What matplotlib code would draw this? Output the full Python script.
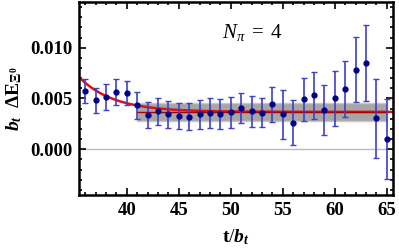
import matplotlib as mpl
mpl.use('Agg')
import matplotlib.pyplot as plt
from matplotlib.ticker import MultipleLocator
import numpy as np

plt.rc('font', family='Liberation Serif', weight='bold', size=13.5)
plt.rc('mathtext', fontset='custom',
       rm='Liberation Serif:style=normal:weight=normal',
       it='Liberation Serif:style=italic:weight=normal',
       bf='Liberation Serif:style=normal:weight=bold',
       bfit='Liberation Serif:style=italic:weight=bold')

# data
t = np.arange(36, 66)
dE = [0.00574, 0.00483, 0.00516, 0.00568, 0.00555, 0.00431, 0.00336, 0.00372,
      0.00343, 0.00328, 0.00320, 0.00343, 0.00359, 0.00349, 0.00362, 0.00405,
      0.00372, 0.00359, 0.00441, 0.00343, 0.00261, 0.00490, 0.00532, 0.00385,
      0.00500, 0.00591, 0.00784, 0.00849, 0.00304, 0.00101]
err = [0.00116, 0.00125, 0.00126, 0.00128, 0.00115, 0.00130, 0.00127, 0.00130,
       0.00137, 0.00130, 0.00132, 0.00140, 0.00150, 0.00150, 0.00150, 0.00150,
       0.00150, 0.00143, 0.00172, 0.00238, 0.00220, 0.00214, 0.00232, 0.00246,
       0.00272, 0.00276, 0.00320, 0.00371, 0.00392, 0.00390]

# fit: plateau + one exponential
plateau = 0.00368
plateau_err = 0.00092
amp = 0.00343
t0 = 35.4
tau = 3.3
band_t = [41, 65]

fig = plt.figure(figsize=(3.99, 2.49), dpi=100)
ax = fig.add_axes([0.198, 0.217, 0.787, 0.775])

ax.axhline(0, color='#bbbbbb', lw=1, zorder=0)
ax.fill_between(band_t, plateau - plateau_err, plateau + plateau_err,
                color='#a6a6a6', edgecolor='#c8c8c8', lw=1, zorder=1)
tt = np.linspace(35.3, 65.7, 300)
ax.plot(tt, plateau + amp * np.exp(-(tt - t0) / tau), color='#dd1111', lw=1.8, zorder=2)
ax.plot(band_t, [plateau, plateau], color='#aa0000', lw=1.0, zorder=2)

ax.errorbar(t, dE, yerr=err, fmt='o', ms=3.5, color='#00008b', ecolor='#4040c4',
            elinewidth=1.2, capsize=2.5, capthick=1.0, zorder=3)

ax.text(52.0, 0.0115, r'$N_\pi\;=\;4$', fontsize=15, fontweight='normal',
        ha='center', va='center')

ax.set_xlim(35.4, 65.6)
ax.set_ylim(-0.0045, 0.0145)
ax.xaxis.set_major_locator(MultipleLocator(5))
ax.xaxis.set_minor_locator(MultipleLocator(1))
ax.yaxis.set_major_locator(MultipleLocator(0.005))
ax.yaxis.set_minor_locator(MultipleLocator(0.001))
ax.yaxis.set_major_formatter(mpl.ticker.FormatStrFormatter('%.3f'))
ax.tick_params(which='both', direction='in', top=True, right=True, width=1.2)
ax.tick_params(which='major', length=5, pad=5)
ax.tick_params(which='minor', length=2.5)
for s in ax.spines.values():
    s.set_linewidth(1.8)

ax.set_xlabel(r'$\mathbf{t}/\boldsymbol{b}_{\boldsymbol{t}}$', fontsize=14, labelpad=6)
ax.set_ylabel(r'$\boldsymbol{b}_{\boldsymbol{t}}\ \ \mathbf{\Delta E}_{\mathbf{\Xi}^\mathbf{0}}$',
              fontsize=14, labelpad=4)

plt.savefig('out.png', dpi=100)
